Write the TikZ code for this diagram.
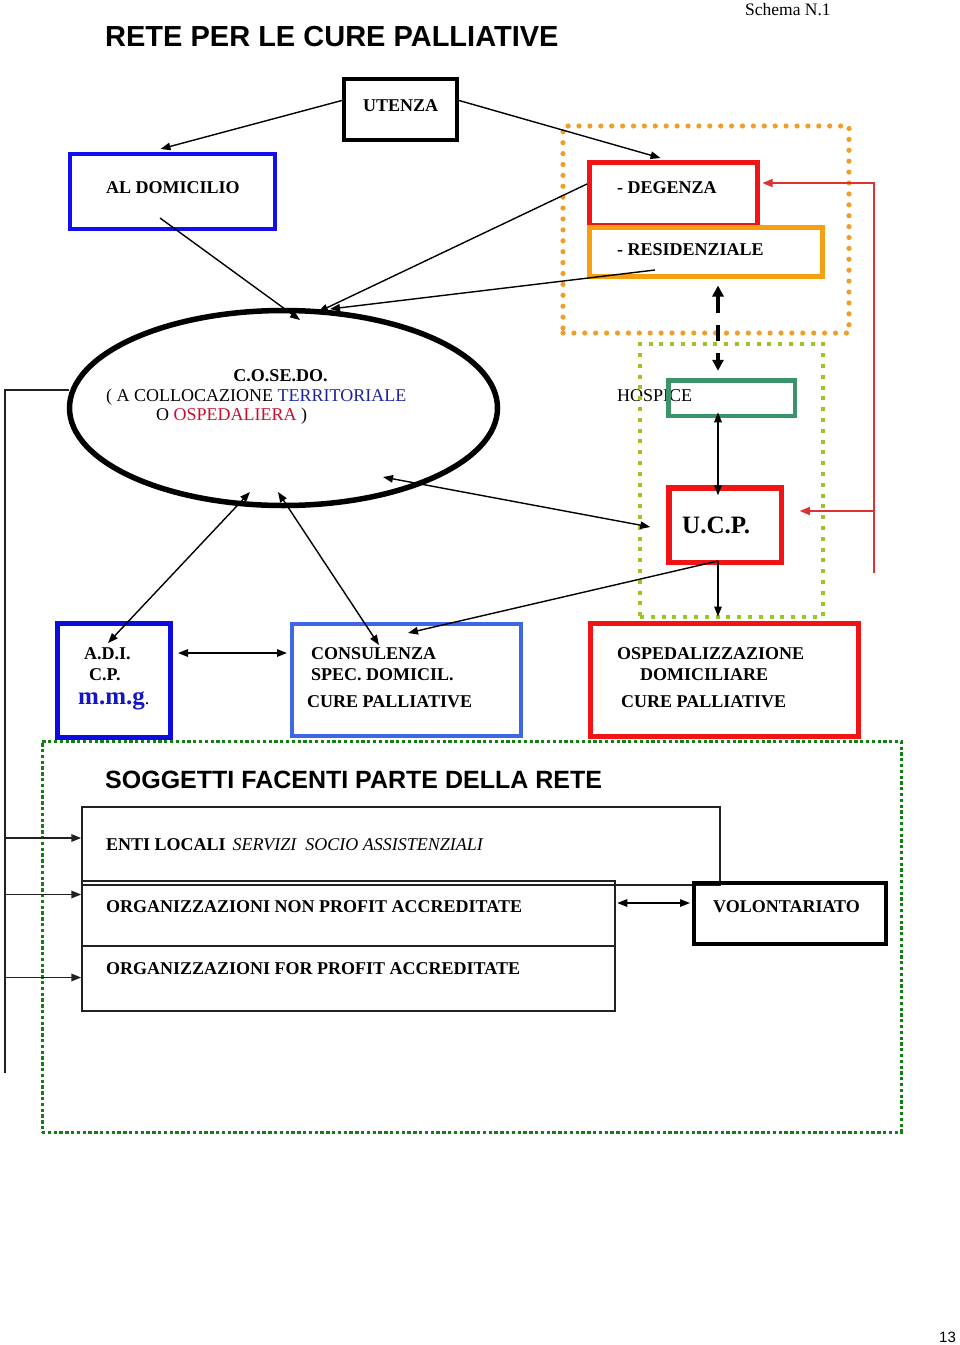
\documentclass[tikz,border=0pt]{standalone}
\usepackage{fontspec}
\setmainfont{Liberation Serif}
\newfontfamily\arialf{Liberation Sans}
\usetikzlibrary{arrows.meta,calc,shapes.geometric}
\definecolor{domblue}{HTML}{1010EE}
\definecolor{adiblue}{HTML}{0C0CE0}
\definecolor{conblue}{HTML}{3F66E6}
\definecolor{boxred}{HTML}{F01414}
\definecolor{resorange}{HTML}{F5A011}
\definecolor{dotorange}{HTML}{EF9E2A}
\definecolor{ygreen}{HTML}{9CC424}
\definecolor{hosgreen}{HTML}{3A936A}
\definecolor{dkgreen}{HTML}{138013}
\definecolor{terrblue}{HTML}{1C2499}
\definecolor{ospred}{HTML}{C8102E}
\definecolor{mmgblue}{HTML}{1515C8}
\definecolor{linered}{HTML}{E0302F}
\definecolor{boxgray}{HTML}{222222}
\begin{document}
\begin{tikzpicture}[x=1pt,y=-1pt,
  box/.style={draw, rectangle, inner sep=0pt},
  txt/.style={inner sep=0pt, anchor=base west, font=\fontsize{18}{20}\selectfont},
  bt/.style={inner sep=0pt, anchor=base west, font=\bfseries\fontsize{18}{20}\selectfont},
  con/.style={line width=1.4pt, -{Triangle[length=10pt,width=7.5pt]}},
  dcon/.style={line width=1.4pt, {Triangle[length=10pt,width=7.5pt]}-{Triangle[length=10pt,width=7.5pt]}},
  redcon/.style={draw=linered, line width=1.3pt, -{Triangle[length=10pt,width=8pt]}, color=linered},
  bline/.style={line width=1.8pt, draw=boxgray},
  thinbox/.style={box, draw=boxgray, line width=1.5pt},
]
\useasboundingbox (0,0) rectangle (960,1345);

% HOSPICE label (under the frame and box)
\node[txt] (thospice) at (617,401) {HOSPICE};

% group frames
\node[box, draw=dotorange, line width=5.2pt, line cap=round, dash pattern=on 0pt off 10.9pt,
      minimum width=286pt, minimum height=207pt] (oframe) at (706,229.5) {};
\node[box, draw=ygreen, line width=4pt, dash pattern=on 4pt off 6.8pt,
      minimum width=183pt, minimum height=273pt] (gframe) at (731.5,480.5) {};
\node[box, draw=dkgreen, line width=3pt, dash pattern=on 3.3pt off 2.5pt,
      minimum width=859pt, minimum height=391pt] (bframe) at (471.5,936.5) {};

% boxes
\node[box, line width=3.8pt, minimum width=113.5pt, minimum height=61.5pt] (utenza) at (400.5,109.5) {};
\node[box, draw=domblue, line width=4pt, minimum width=205pt, minimum height=75pt] (aldom) at (172.5,191.5) {};
\node[box, draw=boxred, line width=5pt, minimum width=168pt, minimum height=63pt] (degenza) at (673.5,194) {};
\node[box, draw=resorange, line width=5pt, minimum width=233pt, minimum height=49pt] (resid) at (706,252) {};
\node[box, draw=hosgreen, line width=4.5pt, minimum width=126.5pt, minimum height=35.5pt] (hospice) at (731.5,398) {};
\node[box, draw=boxred, line width=5.5pt, minimum width=112.5pt, minimum height=74.5pt] (ucp) at (725,525) {};
\node[draw, ellipse, line width=5.5pt, inner sep=0pt, minimum width=428pt, minimum height=195pt] (cosedo) at (283.5,408) {};
\node[box, draw=adiblue, line width=5pt, minimum width=113pt, minimum height=114pt] (adi) at (114,680.5) {};
\node[box, draw=conblue, line width=4pt, minimum width=229pt, minimum height=112pt] (consul) at (406.5,680) {};
\node[box, draw=boxred, line width=5pt, minimum width=268pt, minimum height=113pt] (ospdom) at (724.5,680) {};
\node[thinbox, minimum width=638pt, minimum height=78pt] (enti) at (401,846) {};
\node[thinbox, minimum width=533pt, minimum height=65pt] (nonprofit) at (348.5,913.5) {};
\node[thinbox, minimum width=533pt, minimum height=65pt] (forprofit) at (348.5,978.5) {};
\node[box, line width=4pt, minimum width=192pt, minimum height=61pt] (volont) at (790,913.5) {};

% texts
\node[txt, font=\fontsize{17.5}{20}\selectfont] (tschema) at (745,15) {Schema N.1};
\node[txt, font=\arialf\bfseries\fontsize{29}{32}\selectfont] (ttitle) at (105,46) {RETE PER LE CURE PALLIATIVE};
\node[bt] (tutenza) at (363,111) {UTENZA};
\node[bt] (taldom) at (106,193) {AL DOMICILIO};
\node[bt] (tdegenza) at (617,193) {- DEGENZA};
\node[bt] (tresid) at (617,255.5) {- RESIDENZIALE};
\node[bt, anchor=base] (tcosedo) at (280.5,381) {C.O.SE.DO.};
\node[txt] (tcoll) at (106,401) {( A COLLOCAZIONE \textcolor{terrblue}{TERRITORIALE}};
\node[txt] (tosp) at (156,420) {O \textcolor{ospred}{OSPEDALIERA} )};
\node[bt, font=\bfseries\fontsize{25}{28}\selectfont] (tucp) at (682,533) {U.C.P.};
\node[bt] (tadi) at (84,659) {A.D.I.};
\node[bt] (tcp) at (89,680) {C.P.};
\node[bt, font=\bfseries\fontsize{25}{28}\selectfont, text=mmgblue] (tmmg) at (78,704) {m.m.g{\color{black}\mdseries\fontsize{18}{20}\selectfont.}};
\node[bt] (tcons1) at (311,659) {CONSULENZA};
\node[bt] (tcons2) at (311,680) {SPEC. DOMICIL.};
\node[bt] (tcons3) at (307,707) {CURE PALLIATIVE};
\node[bt] (tosp1) at (617,659) {OSPEDALIZZAZIONE};
\node[bt] (tosp2) at (640,680) {DOMICILIARE};
\node[bt] (tosp3) at (621,707) {CURE PALLIATIVE};
\node[txt, font=\arialf\bfseries\fontsize{25}{28}\selectfont] (tsogg) at (105,788) {SOGGETTI FACENTI PARTE DELLA RETE};
\node[bt] (tenti) at (106,850) {ENTI LOCALI\hspace{7pt}\mdseries\itshape SERVIZI\ \ SOCIO ASSISTENZIALI};
\node[bt] (tnonp) at (106,912) {ORGANIZZAZIONI NON PROFIT ACCREDITATE};
\node[bt] (tforp) at (106,974) {ORGANIZZAZIONI FOR PROFIT ACCREDITATE};
\node[bt] (tvol) at (713,912) {VOLONTARIATO};
\node[txt, font=\arialf\fontsize{15}{18}\selectfont] (tpage) at (939,1342) {13};

% thick dashed double arrow residenziale <-> hospice
\draw[line width=3.5pt, dash pattern=on 17pt off 12pt on 16pt off 12pt on 40pt,
      {Triangle[length=11pt,width=11pt]}-{Triangle[length=11pt,width=11pt]}]
  ($(resid.south)+(12,6.5)$) -- ($(hospice.north)+(-13.5,-7.25)$);

% connectors
\draw[con] ($(utenza.west)+(0,-9)$) -- ($(aldom.north)+(-12,-3)$);
\draw[con] ($(utenza.east)+(0,-9)$) -- ($(degenza.north)+(-13,-2)$);
\draw[con] ($(aldom.center)+(-12.5,26.5)$) -- ($(cosedo.center)+(16.5,-88)$);
\draw[con] ($(degenza.west)+(0,-10)$) -- ($(cosedo.center)+(34.5,-96)$);
\draw[con] ($(resid.center)+(-51,18)$) -- ($(cosedo.center)+(46.5,-99)$);
\draw[dcon] ($(cosedo.center)+(-33.5,84)$) -- ($(adi.center)+(-6,-37.5)$);
\draw[dcon] ($(cosedo.center)+(-5.5,84)$) -- ($(consul.center)+(-27.5,-35)$);
\draw[dcon] ($(cosedo.center)+(99.5,69)$) -- ($(ucp.west)+(-15.75,2)$);
\draw[dcon] ($(hospice.south)+(-13.5,-5.75)$) -- ($(ucp.north)+(-7,10.25)$);
\coordinate (ucpout) at ($(ucp.south)+(-7,-4)$);
\draw[con] (ucpout) -- ($(consul.center)+(1.5,-47)$);
\draw[con] (ucpout) -- ($(ospdom.north)+(-6.5,-4.5)$);
\draw[dcon] ($(adi.east)+(5,-27.5)$) -- ($(consul.west)+(-3,-27)$);
\draw[dcon] ($(nonprofit.east)+(1.5,-10.5)$) -- ($(volont.west)+(-2,-10.5)$);

% red feedback line
\coordinate (redbot) at (874,573);
\draw[redcon] (redbot) |- ($(degenza.east)+(2.5,-11)$);
\draw[redcon] ($(redbot)+(0,-62)$) -- ($(ucp.east)+(15.75,-14)$);

% left bracket line
\coordinate (leftbot) at (5,1073);
\draw[bline] ($(cosedo.west)+(2.5,-18)$) -| (leftbot);
\coordinate (entiin) at ($(enti.west)+(0,-8)$);
\coordinate (nonpin) at ($(nonprofit.west)+(0,-19)$);
\coordinate (forpin) at ($(forprofit.west)+(0,-1)$);
\draw[bline, -{Triangle[length=10pt,width=7.5pt]}] (leftbot |- entiin) -- (entiin);
\draw[bline, -{Triangle[length=10pt,width=7.5pt]}] (leftbot |- nonpin) -- (nonpin);
\draw[bline, -{Triangle[length=10pt,width=7.5pt]}] (leftbot |- forpin) -- (forpin);
\end{tikzpicture}
\end{document}
